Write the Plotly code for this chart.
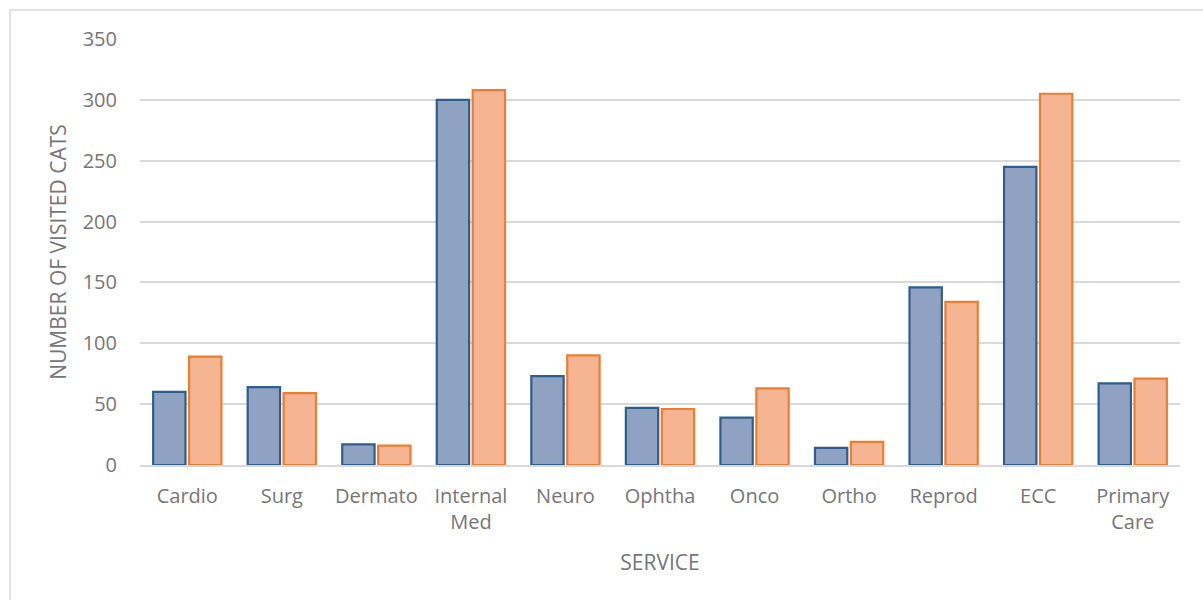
import plotly.graph_objects as go

# Visits per service, two series
services = ["Cardio", "Surg", "Dermato", "Internal<br>Med", "Neuro", "Ophtha",
            "Onco", "Ortho", "Reprod", "ECC", "Primary<br>Care"]
series_a = [60, 64, 17, 300, 73, 47, 39, 14, 146, 245, 67]
series_b = [89, 59, 16, 308, 90, 46, 63, 19, 134, 305, 71]

y_ticks = [0, 50, 100, 150, 200, 250, 300, 350]

text_color = "#767676"
grid_color = "#D9D9D9"
font_family = "Open Sans, Noto Sans, sans-serif"

fig = go.Figure()
fig.add_trace(go.Bar(
    x=services, y=series_a, name="A",
    marker=dict(color="#8FA2C2", line=dict(color="#2E5E8E", width=2.2)),
))
fig.add_trace(go.Bar(
    x=services, y=series_b, name="B",
    marker=dict(color="#F5B593", line=dict(color="#ED7D31", width=2.2)),
))

fig.update_layout(
    width=1203, height=600,
    barmode="group", bargap=0.24, bargroupgap=0.1,
    showlegend=False,
    plot_bgcolor="white", paper_bgcolor="white",
    margin=dict(l=140, r=23, t=39, b=135),
    font=dict(family=font_family, color=text_color, size=20),
    xaxis=dict(
        showgrid=False, showline=True, linecolor=grid_color, linewidth=1.5,
        ticks="", ticklabelstandoff=12, tickfont=dict(size=20, color=text_color),
        title=dict(text="SERVICE", font=dict(size=21, color=text_color), standoff=22),
    ),
    yaxis=dict(
        range=[0, 350], tickvals=y_ticks, showgrid=True, gridcolor=grid_color, gridwidth=1.5,
        zeroline=False, ticks="", ticklabelstandoff=22,
        tickfont=dict(size=20, color=text_color),
        title=dict(text="NUMBER OF VISITED CATS", font=dict(size=21, color=text_color), standoff=10),
    ),
    shapes=[dict(
        type="rect", xref="paper", yref="paper",
        x0=-0.125, x1=1.03, y0=-0.35, y1=1.068,
        line=dict(color="#D9D9D9", width=1.5), layer="below",
    )],
)

fig.write_html("out.html")
